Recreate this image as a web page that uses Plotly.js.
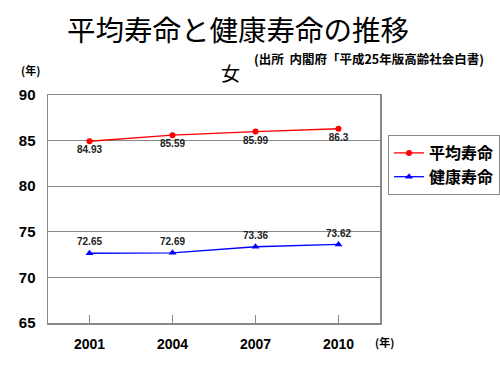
<!DOCTYPE html>
<html><head><meta charset="utf-8">
<script src="https://cdn.plot.ly/plotly-3.0.1.min.js"></script>
<style>html,body{margin:0;padding:0;background:#fff}#chart{width:500px;height:365px}</style>
</head><body><div id="chart"></div>
<script>
const years = ['2001', '2004', '2007', '2010'];
const avgLife = [84.93, 85.59, 85.99, 86.3];
const healthyLife = [72.65, 72.69, 73.36, 73.62];
const seriesNames = ['平均寿命', '健康寿命'];

const F = 'Liberation Sans, Arial, Noto Sans CJK JP, sans-serif';
const FJ = 'Noto Sans CJK JP, sans-serif';

const traces = [
  {x: years, y: avgLife, name: seriesNames[0], type: 'scatter', mode: 'lines+markers+text',
   line: {color: '#ff0000', width: 1.3}, marker: {color: '#ff0000', symbol: 'circle', size: 6},
   text: avgLife.map(String), textposition: 'bottom center',
   textfont: {family: F, size: 10, color: '#222', weight: 'bold'}},
  {x: years, y: healthyLife, name: seriesNames[1], type: 'scatter', mode: 'lines+markers+text',
   line: {color: '#0000ff', width: 1.3}, marker: {color: '#0000ff', symbol: 'triangle-up', size: 7},
   text: healthyLife.map(String), textposition: 'top center',
   textfont: {family: F, size: 10, color: '#222', weight: 'bold'}}
];

const layout = {
  width: 500, height: 365,
  margin: {l: 48, r: 120, t: 95, b: 42, autoexpand: false},
  paper_bgcolor: '#fff', plot_bgcolor: '#fff',
  showlegend: true,
  legend: {font: {family: FJ, size: 16, color: '#000', weight: 'bold'},
           bordercolor: '#888', borderwidth: 1, bgcolor: '#fff', tracegroupgap: 0},
  xaxis: {type: 'category', range: [-0.5, 3.5], showgrid: false, zeroline: false,
          showline: true, linecolor: '#888', linewidth: 1.5, mirror: true,
          ticks: 'inside', ticklen: 8, tickcolor: '#888',
          tickfont: {family: F, size: 14, color: '#000', weight: 'bold'}, ticklabelstandoff: 8},
  yaxis: {range: [65, 90], dtick: 5, showgrid: true, gridcolor: '#888', gridwidth: 1, zeroline: false,
          showline: true, linecolor: '#888', linewidth: 1.5, mirror: true, ticks: '',
          tickfont: {family: F, size: 15, color: '#000', weight: 'bold'}, ticklabelstandoff: 8},
  annotations: [
    {text: '平均寿命と健康寿命の推移', font: {family: FJ, size: 28.5, color: '#000'}},
    {text: '(出所  内閣府「平成25年版高齢社会白書)', font: {family: FJ, size: 12.5, color: '#000', weight: 'bold'}},
    {text: '女', font: {family: FJ, size: 19, color: '#000'}},
    {text: '(年)', font: {family: FJ, size: 11, color: '#000', weight: 'bold'}},
    {text: '(年)', font: {family: FJ, size: 11, color: '#000', weight: 'bold'}}
  ]
};
const W = 500 - 48 - 120, H = 365 - 95 - 42;
function px(x) { return (x - 48) / W; }
function py(y) { return (365 - 42 - y) / H; }
const pos = [[238, 28], [369, 58], [230, 73], [30, 70], [384, 342]];
layout.annotations.forEach((a, i) => {
  a.showarrow = false;
  a.xref = 'paper'; a.yref = 'paper'; a.x = px(pos[i][0]); a.y = py(pos[i][1]);
  a.xanchor = 'center'; a.yanchor = 'middle';
});
layout.legend.x = px(388); layout.legend.y = py(135); layout.legend.xanchor = 'left'; layout.legend.yanchor = 'top';

Plotly.newPlot('chart', traces, layout, {displayModeBar: false, staticPlot: true});
</script></body></html>
